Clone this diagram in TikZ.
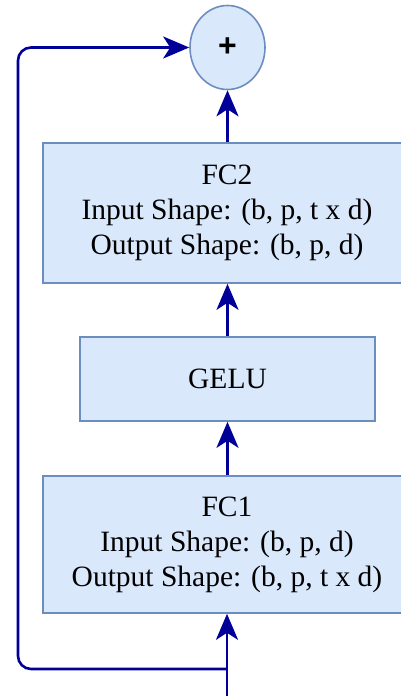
\documentclass[tikz,border=0pt]{standalone}
\usepackage{fontspec}
\setmainfont{Liberation Serif}
\newfontfamily\plusfont{Liberation Sans}
\usepackage{xcolor}
\usepackage{tikz}
\usetikzlibrary{arrows.meta,positioning,calc,shapes.geometric}
\definecolor{boxfill}{HTML}{DAE8FC}
\definecolor{boxline}{HTML}{6C8EBF}
\definecolor{flowblue}{HTML}{000099}
\tikzset{
  layerbox/.style={draw=boxline, fill=boxfill, line width=1.6pt, align=center, inner sep=0pt, font=\fontsize{29.5}{35}\selectfont},
  sumnode/.style={draw=boxline, fill=boxfill, line width=1.6pt, ellipse, minimum width=75pt, minimum height=84pt, inner sep=0pt, font=\plusfont\bfseries\fontsize{32}{32}\selectfont},
  flow/.style={-{Stealth[length=26pt,width=22pt,inset=7pt]}, draw=flowblue, line width=2.6pt},
  skip/.style={flow, rounded corners=13pt}
}

\begin{document}
\begin{tikzpicture}[x=1pt,y=-1pt]
\useasboundingbox (0,0) rectangle (400,696);
\node[sumnode] (plus) at (227.5,47.5) {+};
\node[layerbox, minimum width=368pt, minimum height=140pt] (fc2) at (227,213) {FC2\\Input Shape: (b, p, t x d)\\Output Shape: (b, p, d)};
\node[layerbox, minimum width=295pt, minimum height=84pt] (gelu) at (227.5,379) {GELU};
\node[layerbox, minimum width=368pt, minimum height=137pt] (fc1) at (227,544.5) {FC1\\Input Shape: (b, p, d)\\Output Shape: (b, p, t x d)};
\coordinate (input) at (227,696);
\coordinate (branch) at (227,669);
\draw[flow] (input) -- (input |- fc1.south);
\draw[flow] (plus |- fc1.north) -- (plus |- gelu.south);
\draw[flow] (plus |- gelu.north) -- (plus |- fc2.south);
\draw[flow] (plus |- fc2.north) -- (plus.south);
\draw[skip] (branch) -- (18,669) -- (18,47.5) -- (plus.west);
\end{tikzpicture}
\end{document}
